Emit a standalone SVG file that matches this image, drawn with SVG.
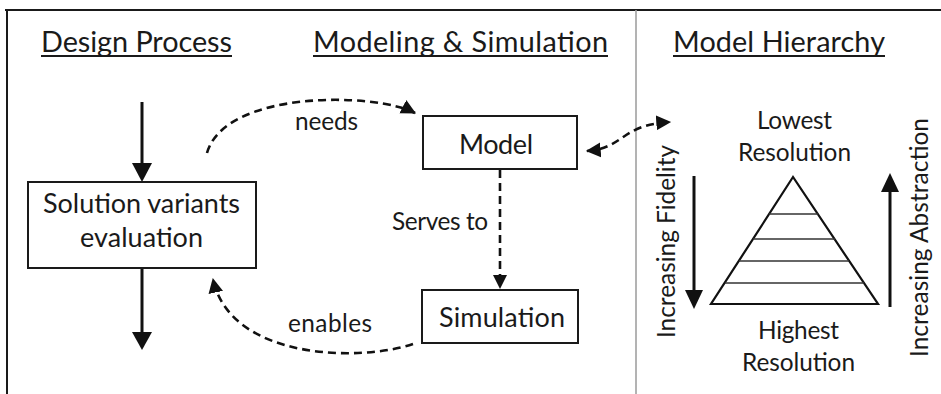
<svg xmlns="http://www.w3.org/2000/svg" width="941" height="394" viewBox="0 0 941 394">
<style>
text{font-family:Lato,"Open Sans","Liberation Sans",sans-serif;fill:#1a1a1a}
.h{font-size:28.8px}
.b{font-size:27px}
.l{font-size:24.4px}
.box{fill:#fff;stroke:#1a1a1a;stroke-width:2}
.ul{stroke:#1a1a1a;stroke-width:1.8}
.solid{stroke:#111;stroke-width:3;fill:none}
.dash{stroke:#111;stroke-width:2.6;fill:none;stroke-dasharray:8 5}
.head{fill:#111}
</style>
<defs>
<marker id="dh" markerUnits="userSpaceOnUse" markerWidth="16" markerHeight="16" viewBox="0 0 14 14" refX="12" refY="7" orient="auto-start-reverse">
<path d="M0,0.5 L13,7 L0,13.5 Z" class="head"/>
</marker>
</defs>
<g id="frame">
<line x1="5" y1="10" x2="941" y2="10" stroke="#1a1a1a" stroke-width="2"/>
<line x1="7" y1="9" x2="7" y2="394" stroke="#1a1a1a" stroke-width="2"/>
<line x1="636" y1="10" x2="636" y2="394" stroke="#a0a0a0" stroke-width="1.6"/>
</g>
<g id="headings">
<text class="h" x="41" y="52" textLength="191">Design Process</text>
<line class="ul" x1="41" y1="56" x2="232" y2="56"/>
<text class="h" x="313" y="52" textLength="295">Modeling &amp; Simulation</text>
<line class="ul" x1="313" y1="56" x2="608" y2="56"/>
<text class="h" x="673" y="52" textLength="212">Model Hierarchy</text>
<line class="ul" x1="673" y1="56" x2="885" y2="56"/>
</g>
<g id="connectors">
<line class="solid" x1="142" y1="102" x2="142" y2="165"/>
<path class="head" d="M132,163 L152,163 L142,182 Z"/>
<line class="solid" x1="142" y1="268" x2="142" y2="334"/>
<path class="head" d="M132,332 L152,332 L142,350 Z"/>
<path class="dash" d="M207,153 C225,90 375,92 415,113" marker-end="url(#dh)"/>
<path class="dash" d="M413,344 C360,362 230,360 213,279" marker-end="url(#dh)"/>
<line class="dash" x1="500" y1="170" x2="500" y2="277"/>
<path class="head" d="M493,275 L507,275 L500,289 Z"/>
<path class="dash" d="M587,151 C625,148 620,125 670,122" marker-start="url(#dh)" marker-end="url(#dh)"/>
<line class="solid" x1="694" y1="176" x2="694" y2="292"/>
<path class="head" d="M685,290 L703,290 L694,309 Z"/>
<line class="solid" x1="890" y1="307" x2="890" y2="190"/>
<path class="head" d="M881,192 L899,192 L890,173 Z"/>
</g>
<g id="solution">
<rect class="box" x="28" y="182" width="228" height="86"/>
<text class="b" x="43" y="213" textLength="197">Solution variants</text>
<text class="b" x="80" y="247" textLength="123">evaluation</text>
</g>
<g id="model">
<rect class="box" x="423" y="116" width="154" height="53"/>
<text class="b" x="459" y="154" textLength="74">Model</text>
</g>
<g id="simulation">
<rect class="box" x="422" y="290" width="156" height="53"/>
<text class="b" x="439" y="327" textLength="126">Simulation</text>
</g>
<g id="labels">
<text class="l" x="295" y="130" textLength="63">needs</text>
<text class="l" x="392" y="230" textLength="96">Serves to</text>
<text class="l" x="288" y="332" textLength="84">enables</text>
</g>
<g id="pyramid">
<path d="M793,177 L711,304 L878,304 Z" fill="none" stroke="#111" stroke-width="2.2" stroke-linejoin="miter"/>
<g stroke="#333" stroke-width="1.6">
<line x1="769" y1="214" x2="818" y2="214"/>
<line x1="753" y1="239" x2="835" y2="239"/>
<line x1="739" y1="261" x2="849" y2="261"/>
<line x1="725" y1="283" x2="864" y2="283"/>
</g>
<text class="l" x="757" y="129" textLength="75">Lowest</text>
<text class="l" x="738" y="161" textLength="113">Resolution</text>
<text class="l" x="758" y="339" textLength="81">Highest</text>
<text class="l" x="742" y="371" textLength="113">Resolution</text>
<text class="l" transform="translate(675,338) rotate(-90)" textLength="193">Increasing Fidelity</text>
<text class="l" transform="translate(928,357) rotate(-90)" textLength="239">Increasing Abstraction</text>
</g>
</svg>
